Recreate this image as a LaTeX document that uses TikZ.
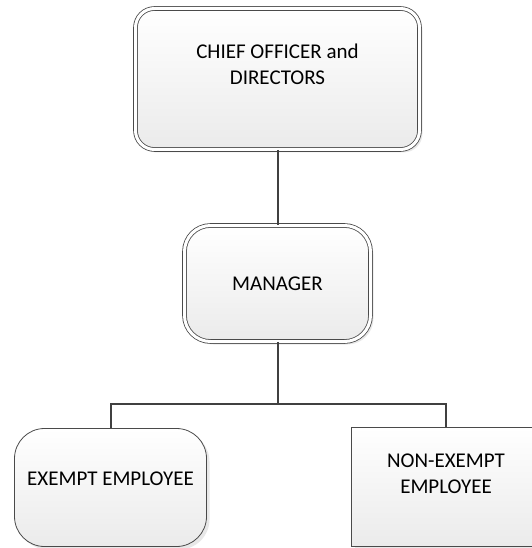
\documentclass[tikz,border=0pt]{standalone}
\usepackage{fontspec}
\setmainfont{Carlito}
\usetikzlibrary{shadows}
\definecolor{edgegray}{HTML}{4A4A4A}
\definecolor{linegray}{HTML}{404040}
\begin{document}
\begin{tikzpicture}[x=1pt,y=-1pt,
    orgbox/.style={draw=edgegray,line width=0.8pt,top color=white,bottom color=black!8,
        align=center,inner sep=0pt,font=\fontsize{21pt}{26pt}\selectfont,
        drop shadow={shadow xshift=3pt,shadow yshift=-3pt,opacity=0.18}},
    dblbox/.style={orgbox,double=white,double distance=3pt},
    link/.style={draw=linegray,line width=2pt}]
    \useasboundingbox (0,0) rectangle (531,548);
    \node [dblbox,rounded corners=19pt,minimum width=284pt,minimum height=141pt,
        text height=16pt,text depth=4pt] (chief) at (277.5,79) {CHIEF OFFICER and\\DIRECTORS};
    \node [dblbox,rounded corners=26pt,minimum width=186pt,minimum height=116pt] (mgr) at (277.5,283.5) {MANAGER};
    \node [orgbox,rounded corners=30pt,minimum width=192pt,minimum height=118pt,
        text height=16pt,text depth=21pt] (exempt) at (110.5,487.5) {EXEMPT EMPLOYEE};
    \node [orgbox,minimum width=189pt,minimum height=119pt,
        text height=16pt,text depth=4pt] (nonexempt) at (446,487) {NON-EXEMPT\\EMPLOYEE};
    \coordinate (fork) at (277.5,403.5);
    \draw [link] (chief) to (mgr);
    \draw [link] (mgr) to (fork);
    \draw [link] (fork) -| (exempt);
    \draw [link] (fork) -| (nonexempt);
\end{tikzpicture}
\end{document}
